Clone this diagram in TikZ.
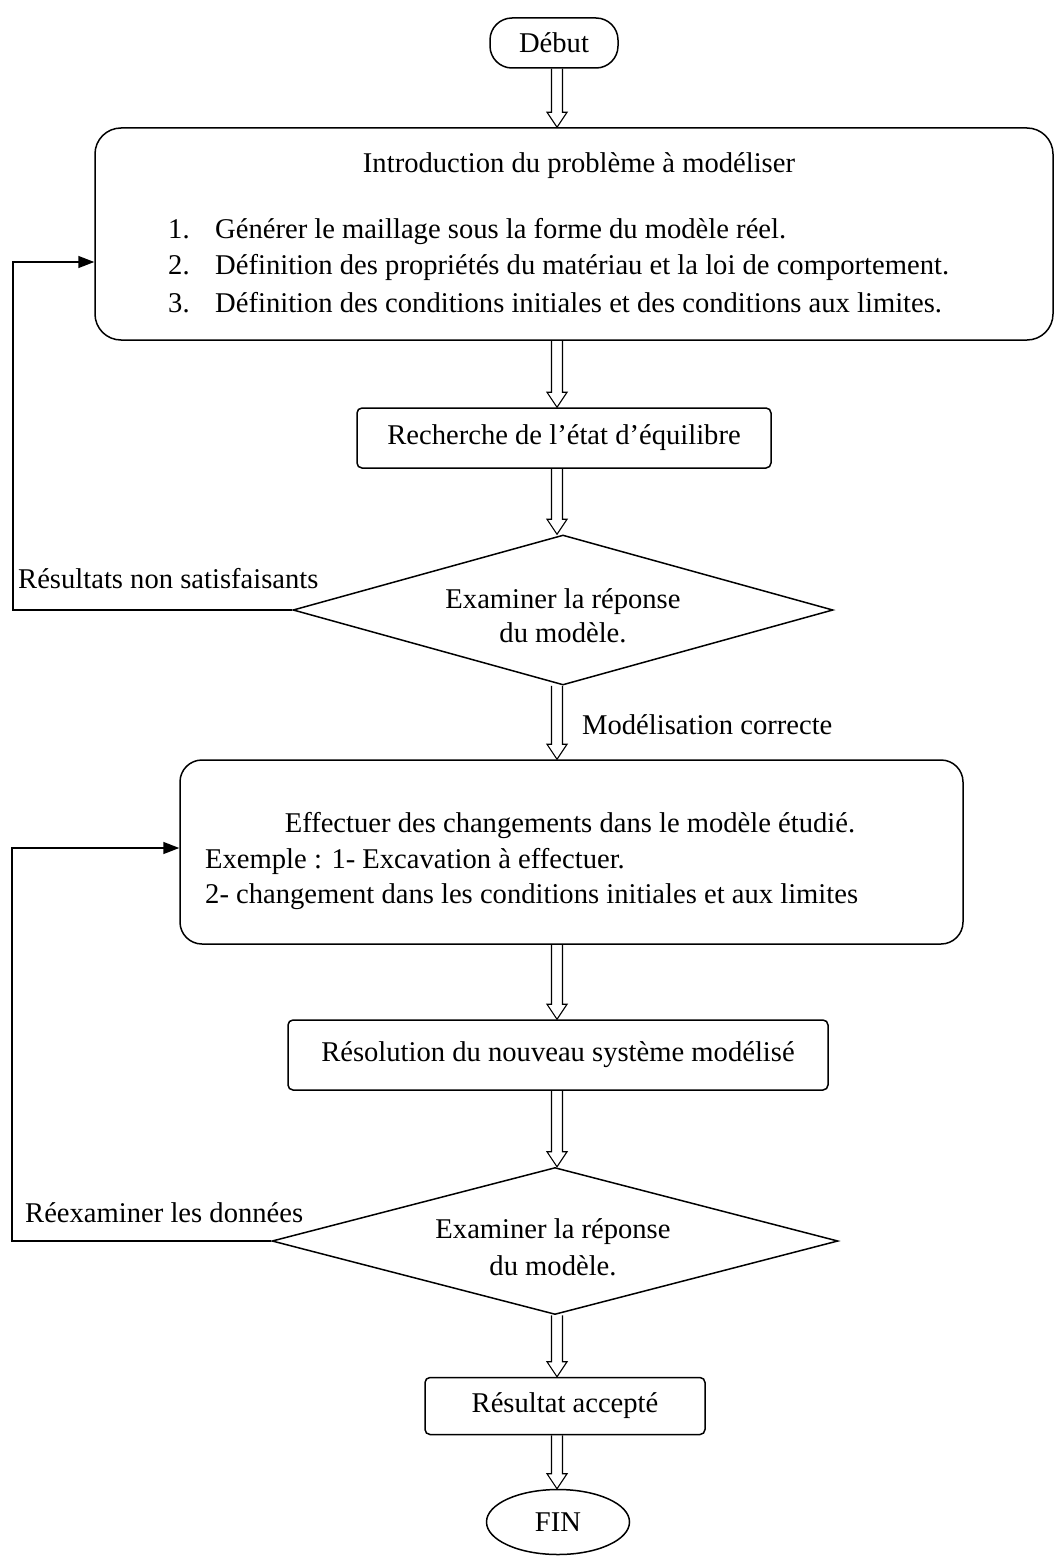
\documentclass[tikz,border=0pt]{standalone}
\usepackage{fontspec}
\setmainfont{Liberation Serif}
\usetikzlibrary{shapes.geometric,arrows.meta,calc}
\begin{document}
\begin{tikzpicture}[x=1pt,y=-1pt,
  font=\fontsize{28.6}{35}\selectfont,
  box/.style={draw, line width=1.5pt, rectangle, inner sep=0pt},
  txt/.style={inner sep=0pt, anchor=base west},
  ctxt/.style={inner sep=0pt, anchor=base},
  dia/.style={draw, line width=1.5pt, diamond, inner sep=0pt, align=center},
  hollow/.style={line width=1.1pt, line join=miter,
    to path={let \p1=(\tikztostart), \p2=(\tikztotarget) in
      (\x1-5.5pt,\y1) -- (\x1-5.5pt,\y2+15pt) -- (\x1-10pt,\y2+15pt) -- (\x1,\y2)
      -- (\x1+10pt,\y2+15pt) -- (\x1+5.5pt,\y2+15pt) -- (\x1+5.5pt,\y1)}},
  loopline/.style={line width=1.5pt, -{Triangle[length=16pt,width=12pt]}}
]
\useasboundingbox (0,0) rectangle (1055,1560);
\fill[white] (0,0) rectangle (1055,1560);
\coordinate (ax) at (557,0);

% Start
\node[box, rounded corners=22pt, minimum width=128pt, minimum height=50pt] (deb) at (554,43) {Début};

% Box 1
\node[box, rounded corners=26pt, minimum width=958pt, minimum height=212pt] (b1) at (574,234) {};
\node[ctxt] (t1) at (579,172) {Introduction du problème à modéliser};
\node[txt] (n1) at (168,238) {1.};
\node[txt] (l1) at (215,238) {Générer le maillage sous la forme du modèle réel.};
\node[txt] (n2) at (168,274) {2.};
\node[txt] (l2) at (215,274) {Définition des propriétés du matériau et la loi de comportement.};
\node[txt] (n3) at (168,312) {3.};
\node[txt] (l3) at (215,312) {Définition des conditions initiales et des conditions aux limites.};

% Box 2
\node[box, rounded corners=5pt, minimum width=414pt, minimum height=60pt] (b2) at (564,438) {Recherche de l’état d’équilibre};

% Diamond 1
\node[dia, aspect=3.6, minimum width=540pt, minimum height=150pt] (d1) at (563,610) {};
\node[ctxt] (d1a) at (563,608) {Examiner la réponse};
\node[ctxt] (d1b) at (563,642) {du modèle.};
\node[txt] (lab1) at (18,588) {Résultats non satisfaisants};

\node[txt] (lab2) at (582,734) {Modélisation correcte};

% Box 3
\node[box, rounded corners=22pt, minimum width=783pt, minimum height=184pt] (b3) at (571.5,852) {};
\node[ctxt] (t3) at (570,832) {Effectuer des changements dans le modèle étudié.};
\node[txt] (e1) at (205,868) {Exemple : 1- Excavation à effectuer.};
\node[txt] (e2) at (205,903) {2- changement dans les conditions initiales et aux limites};

% Box 4
\node[box, rounded corners=5pt, minimum width=540pt, minimum height=70pt] (b4) at (558,1055) {Résolution du nouveau système modélisé};

% Diamond 2
\node[dia, aspect=3.85, minimum width=566pt, minimum height=147pt] (d2) at (555,1241) {};
\node[ctxt] (d2a) at (553,1238) {Examiner la réponse};
\node[ctxt] (d2b) at (553,1275) {du modèle.};
\node[txt] (lab3) at (25,1222) {Réexaminer les données};

% Box 5
\node[box, rounded corners=5pt, minimum width=280pt, minimum height=57pt] (b5) at (565,1406) {Résultat accepté};

% End
\node[draw, line width=1.5pt, ellipse, inner sep=0pt, minimum width=143pt, minimum height=65pt] (fin) at (558,1522) {FIN};

% Hollow arrows
\draw[hollow] (deb.south -| ax) to (b1.north -| ax);
\draw[hollow] (b1.south -| ax) to (b2.north -| ax);
\draw[hollow] (b2.south -| ax) to (d1.north -| ax);
\draw[hollow] (d1.south -| ax) to (b3.north -| ax);
\draw[hollow] (b3.south -| ax) to (b4.north -| ax);
\draw[hollow] (b4.south -| ax) to (d2.north -| ax);
\draw[hollow] (d2.south -| ax) to (b5.north -| ax);
\draw[hollow] (b5.south -| ax) to (fin.north -| ax);

% Feedback loops
\coordinate (k1) at (13,262);
\draw[loopline] (d1.west) -| (k1) -- (k1 -| b1.west);
\coordinate (k2) at (12,848);
\draw[loopline] (d2.west) -| (k2) -- (k2 -| b3.west);
\end{tikzpicture}
\end{document}
